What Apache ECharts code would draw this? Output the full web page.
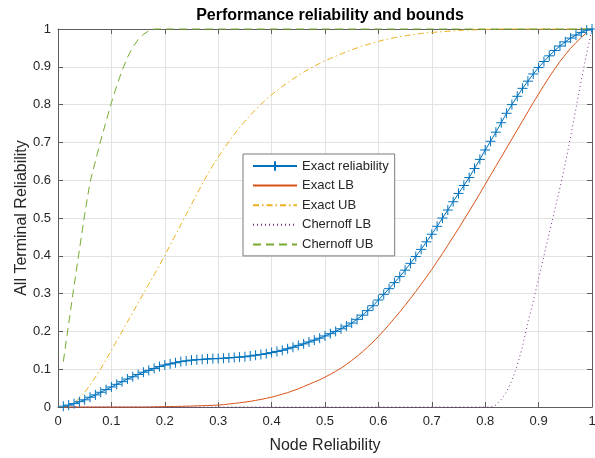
<!DOCTYPE html>
<html>
<head>
<meta charset="utf-8">
<script src="https://cdn.jsdelivr.net/npm/echarts@6/dist/echarts.min.js"></script>
<style>
  html, body { margin: 0; padding: 0; background: #fff; }
  #chart { width: 595px; height: 458px; }
</style>
</head>
<body>
<div id="chart"></div>
<script>
// node reliability p (x axis)
const nodeReliability = [
  0.01,0.02,0.03,0.04,0.05,0.06,0.07,0.08,0.09,0.10,
  0.11,0.12,0.13,0.14,0.15,0.16,0.17,0.18,0.19,0.20,
  0.21,0.22,0.23,0.24,0.25,0.26,0.27,0.28,0.29,0.30,
  0.31,0.32,0.33,0.34,0.35,0.36,0.37,0.38,0.39,0.40,
  0.41,0.42,0.43,0.44,0.45,0.46,0.47,0.48,0.49,0.50,
  0.51,0.52,0.53,0.54,0.55,0.56,0.57,0.58,0.59,0.60,
  0.61,0.62,0.63,0.64,0.65,0.66,0.67,0.68,0.69,0.70,
  0.71,0.72,0.73,0.74,0.75,0.76,0.77,0.78,0.79,0.80,
  0.81,0.82,0.83,0.84,0.85,0.86,0.87,0.88,0.89,0.90,
  0.91,0.92,0.93,0.94,0.95,0.96,0.97,0.98,0.99,1.00
];

const exactReliability = [
  0.002,0.005,0.009,0.014,0.019,0.026,0.032,0.039,0.046,0.053,
  0.060,0.067,0.074,0.080,0.086,0.092,0.097,0.102,0.107,0.111,
  0.114,0.117,0.120,0.122,0.124,0.125,0.126,0.127,0.128,0.128,
  0.129,0.130,0.131,0.132,0.133,0.135,0.137,0.139,0.141,0.144,
  0.147,0.150,0.154,0.158,0.163,0.167,0.172,0.177,0.182,0.188,
  0.194,0.200,0.207,0.214,0.222,0.232,0.243,0.255,0.268,0.283,
  0.298,0.313,0.329,0.345,0.362,0.380,0.398,0.417,0.437,0.457,
  0.478,0.500,0.521,0.543,0.565,0.586,0.607,0.631,0.655,0.680,
  0.703,0.727,0.752,0.777,0.800,0.822,0.843,0.862,0.881,0.898,
  0.914,0.929,0.943,0.955,0.966,0.976,0.984,0.991,0.997,1.000
];

const exactLB = [
  0,0,0,0,0,0,0,0,0,0,
  0,0,0,0,0,0,0,0.0005,0.0007,0.001,
  0.0012,0.0015,0.0018,0.0021,0.0025,0.003,0.0035,0.004,0.0045,0.005,
  0.0063,0.0078,0.0095,0.011,0.013,0.015,0.0175,0.020,0.023,0.026,
  0.030,0.034,0.038,0.043,0.048,0.054,0.060,0.066,0.072,0.079,
  0.0865,0.0945,0.103,0.1125,0.123,0.134,0.146,0.1585,0.172,0.1865,
  0.202,0.218,0.2345,0.2515,0.269,0.287,0.3055,0.3245,0.344,0.364,
  0.385,0.406,0.428,0.450,0.472,0.495,0.518,0.541,0.565,0.589,
  0.613,0.637,0.661,0.685,0.709,0.733,0.757,0.781,0.805,0.828,
  0.851,0.873,0.894,0.914,0.932,0.949,0.964,0.978,0.990,null
];

const exactUB = [
  0,0.004,0.011,0.023,0.039,0.058,0.079,0.101,0.125,0.150,
  0.175,0.200,0.225,0.250,0.275,0.300,0.325,0.350,0.375,0.401,
  0.428,0.455,0.482,0.509,0.536,0.563,0.590,0.615,0.639,0.661,
  0.682,0.702,0.721,0.739,0.756,0.772,0.787,0.801,0.814,0.826,
  0.837,0.848,0.858,0.868,0.877,0.886,0.894,0.902,0.909,0.916,
  0.922,0.928,0.934,0.940,0.945,0.950,0.955,0.959,0.963,0.967,
  0.971,0.974,0.977,0.980,0.982,0.984,0.986,0.988,0.990,0.991,
  0.992,0.993,0.994,0.995,0.996,0.997,0.997,0.998,0.998,0.999,
  0.999,0.999,1,1,1,1,1,1,1,1,
  1,1,1,1,1,1,1,1,1,1
];

const chernoffLB = [
  0,0,0,0,0,0,0,0,0,0,
  0,0,0,0,0,0,0,0,0,0,
  0,0,0,0,0,0,0,0,0,0,
  0,0,0,0,0,0,0,0,0,0,
  0,0,0,0,0,0,0,0,0,0,
  0,0,0,0,0,0,0,0,0,0,
  0,0,0,0,0,0,0,0,0,0,
  0,0,0,0,0,0,0,0,0,0,
  0,0.005,0.02,0.04,0.07,0.11,0.16,0.225,0.28,0.34,
  0.40,0.46,0.52,0.58,0.645,0.715,0.79,0.865,0.935,1.0
];

const chernoffUB = [
  0.12,0.22,0.32,0.415,0.51,0.595,0.65,0.705,0.755,0.805,
  0.85,0.89,0.925,0.952,0.972,0.986,0.995,1,1,1,
  1,1,1,1,1,1,1,1,1,1,
  1,1,1,1,1,1,1,1,1,1,
  1,1,1,1,1,1,1,1,1,1,
  1,1,1,1,1,1,1,1,1,1,
  1,1,1,1,1,1,1,1,1,1,
  1,1,1,1,1,1,1,1,1,1,
  1,1,1,1,1,1,1,1,1,1,
  1,1,1,1,1,1,1,1,1,1
];

const legendNames = ["Exact reliability", "Exact LB", "Exact UB", "Chernoff LB", "Chernoff UB"];

const font = "'Liberation Sans', Arial, sans-serif";
const axisColor = "#5e5e5e";
const textColor = "#262626";
const gridColor = "#e3e3e3";

const pairs = ys => nodeReliability.map((x, i) => [x, ys[i]]);

const lineSeries = (name, ys, color, type, extra) => Object.assign({
  name: name,
  type: "line",
  data: pairs(ys),
  showSymbol: false,
  symbol: "none",
  clip: false,
  lineStyle: {color: color, width: 1, type: type},
  itemStyle: {color: color},
  emphasis: {disabled: true}
}, extra || {});

const chart = echarts.init(document.getElementById("chart"), null, {renderer: "canvas"});

const baseAxis = {
  type: "value",
  min: 0,
  max: 1,
  interval: 0.1,
  axisLine: {show: true, onZero: false, lineStyle: {color: axisColor, width: 1}},
  axisTick: {show: true, inside: true, length: 5, lineStyle: {color: axisColor}},
}

// only the first entry has a marker, the others show just the line sample
const legendData = legendNames.map((n, i) => i === 0 ? {name: n} : {name: n, itemStyle: {opacity: 0}});

const option = {
  animation: false,
  backgroundColor: "#fff",
  title: {
    text: "Performance reliability and bounds",
    left: 325,
    top: 3,
    textAlign: "center",
    textStyle: {fontFamily: font, fontSize: 16, fontWeight: "bold", color: "#000"}
  },
  legend: {
    orient: "vertical",
    left: 243,
    top: 154,
    itemWidth: 44,
    itemHeight: 12,
    itemGap: 6.6,
    padding: [5.5, 6, 5, 9],
    backgroundColor: "#fff",
    borderColor: "#7a7a7a",
    borderWidth: 1,
    textStyle: {fontFamily: font, fontSize: 13, color: textColor},
    data: legendData
  },
  grid: {left: 58, right: 3, top: 29, bottom: 51, outerBoundsMode: "none"},
  xAxis: [
    Object.assign({}, baseAxis, {
      position: "bottom",
      name: "Node Reliability",
      nameLocation: "middle",
      nameGap: 31,
      nameTextStyle: {fontFamily: font, fontSize: 16, color: textColor},
      axisLabel: {fontFamily: font, fontSize: 13, color: textColor, margin: 8},
      splitLine: {show: true, lineStyle: {color: gridColor, width: 1}}
    }),
    Object.assign({}, baseAxis, {
      position: "top",
      axisLabel: {show: false},
      splitLine: {show: false}
    })
  ],
  yAxis: [
    Object.assign({}, baseAxis, {
      position: "left",
      name: "All Terminal Reliability",
      nameLocation: "middle",
      nameGap: 28,
      nameMoveOverlap: false,
      nameTextStyle: {fontFamily: font, fontSize: 16, color: textColor},
      axisLabel: {fontFamily: font, fontSize: 13, color: textColor, margin: 7},
      splitLine: {show: true, lineStyle: {color: gridColor, width: 1}}
    }),
    Object.assign({}, baseAxis, {
      position: "right",
      axisLabel: {show: false},
      splitLine: {show: false}
    })
  ],
  series: [
    lineSeries("Exact reliability", exactReliability, "#0072BD", "solid", {
      showSymbol: true,
      showAllSymbol: true,
      symbol: "path://M5,0L5,10M0,5L10,5",
      symbolSize: 10,
      itemStyle: {color: "rgba(0,0,0,0)", borderColor: "#0072BD", borderWidth: 1}
    }),
    lineSeries("Exact LB", exactLB, "#D95319", "solid"),
    lineSeries("Exact UB", exactUB, "#EDB120", [6, 3, 1.5, 3]),
    lineSeries("Chernoff LB", chernoffLB, "#7E2F8E", [1, 3]),
    lineSeries("Chernoff UB", chernoffUB, "#77AC30", [8, 5])
  ]
};

chart.setOption(option);
</script>
</body>
</html>
